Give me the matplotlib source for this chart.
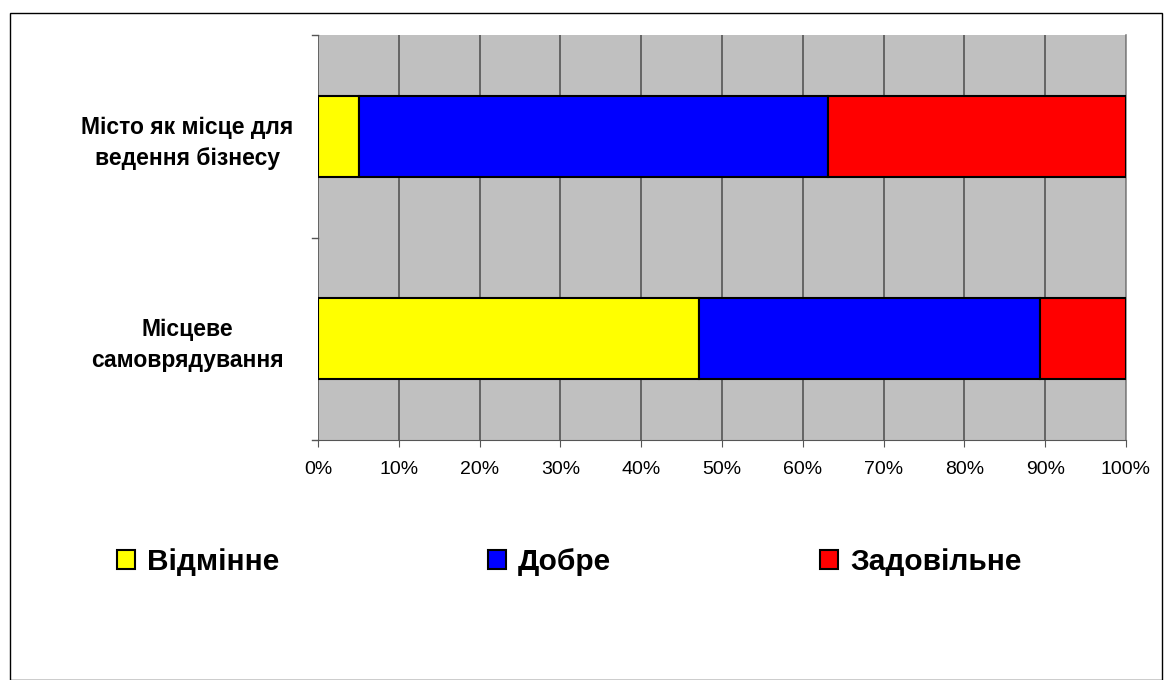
import matplotlib.pyplot as plt
import numpy as np
from matplotlib.patches import Rectangle

plt.rcParams["font.family"] = ["Liberation Sans", "DejaVu Sans"]

categories = ["Місто як місце для\nведення бізнесу", "Місцеве\nсамоврядування"]
series_names = ["Відмінне", "Добре", "Задовільне"]
series_colors = ["#FFFF00", "#0000FF", "#FF0000"]
excellent = [5.1, 47.2]
good = [58.0, 42.2]
satisfactory = [36.9, 10.6]

fig = plt.figure(figsize=(11.73, 6.8), dpi=100)
ax = fig.add_axes([318 / 1173, 1 - 440 / 680, 808 / 1173, 405 / 680])
ax.set_facecolor("#C0C0C0")

y = np.arange(len(categories))
left = np.zeros(len(categories))
for name, vals, col in zip(series_names, [excellent, good, satisfactory], series_colors):
    ax.barh(y, vals, left=left, height=0.4, color=col, edgecolor="black",
            linewidth=1.5, label=name, zorder=3)
    left += np.array(vals)

ax.set_xlim(0, 100)
ax.set_ylim(-0.5, len(categories) - 0.5)
ax.invert_yaxis()
ax.set_xticks(np.arange(0, 101, 10))
ax.set_xticklabels([f"{v}%" for v in range(0, 101, 10)], fontsize=14)
ax.xaxis.grid(True, color="#555555", linewidth=1.2, zorder=1)
ax.set_axisbelow(True)

ax.set_yticks(y)
ax.set_yticklabels(categories, fontsize=16.5, fontweight="bold", ha="center",
                   multialignment="center", linespacing=1.45)
ax.tick_params(axis="y", length=0, pad=94)
for b in [-0.5, 0.5, 1.5]:
    ax.plot([-0.8, 0], [b, b], color="#555555", lw=1, clip_on=False, zorder=4)
ax.tick_params(axis="x", length=5, color="#555555", pad=10)

for side in ["top", "left"]:
    ax.spines[side].set_visible(False)
ax.spines["right"].set_color("#888888")
ax.spines["bottom"].set_color("#555555")
ax.spines["right"].set_linewidth(1.2)

fig.legend(loc="center left", bbox_to_anchor=(117 / 1173, 1 - 562 / 680), ncol=3,
           frameon=False, prop={"size": 21.5, "weight": "bold"}, handlelength=0.6,
           handleheight=0.6, handletextpad=0.4, columnspacing=7.0,
           borderpad=0, borderaxespad=0)

fig.patches.append(Rectangle((10 / 1173, 0), 1152 / 1173, 1 - 13 / 680,
                             transform=fig.transFigure, fill=False,
                             edgecolor="black", linewidth=1))

fig.savefig("out.png", dpi=100)
